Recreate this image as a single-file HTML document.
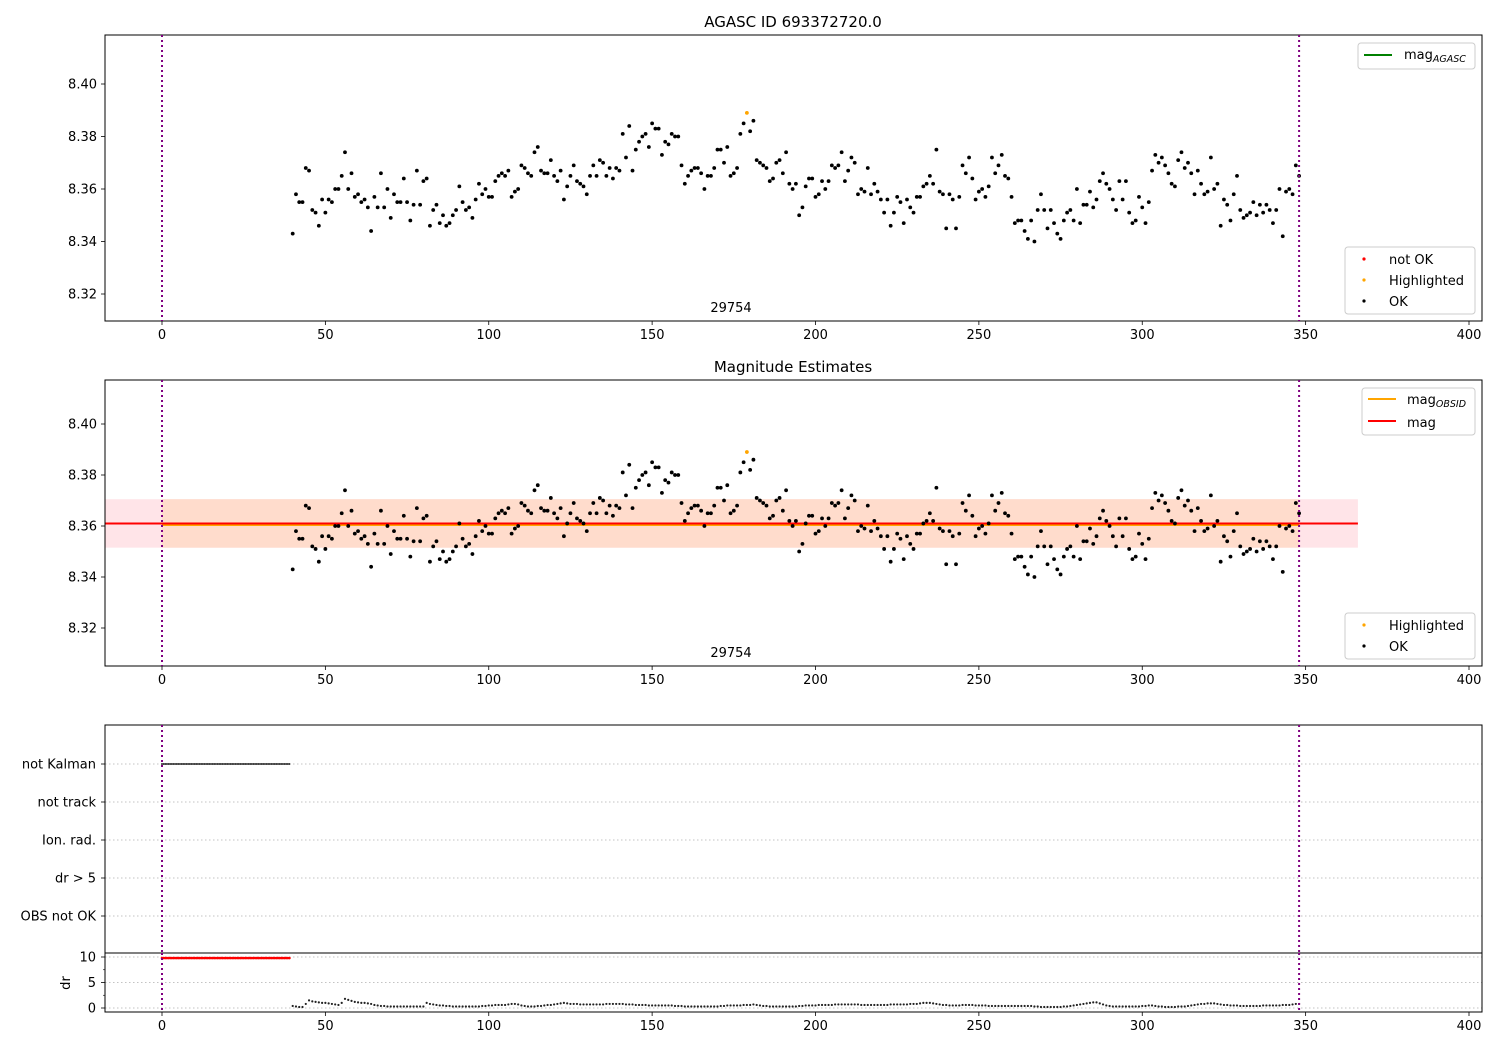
<!DOCTYPE html>
<html><head><meta charset="utf-8">
<style>
html,body{margin:0;padding:0;background:#fff;}
svg{display:block;font-family:"DejaVu Sans","Liberation Sans",sans-serif;}
</style></head>
<body>
<svg id="chart" width="1500" height="1050" xmlns="http://www.w3.org/2000/svg"></svg>
<script>
// ---- data ----
const startIndex = 40;
const mags = [8.343,8.358,8.355,8.355,8.368,8.367,8.352,8.351,8.346,8.356,8.351,8.356,8.355,8.360,8.360,8.365,8.374,8.360,8.366,8.357,
8.358,8.355,8.356,8.353,8.344,8.357,8.353,8.366,8.353,8.360,8.349,8.358,8.355,8.355,8.364,8.355,8.348,8.354,8.367,8.354,
8.363,8.364,8.346,8.352,8.354,8.347,8.350,8.346,8.347,8.350,8.352,8.361,8.355,8.352,8.353,8.349,8.356,8.362,8.358,8.360,
8.357,8.357,8.363,8.365,8.366,8.365,8.367,8.357,8.359,8.360,8.369,8.368,8.366,8.365,8.374,8.376,8.367,8.366,8.366,8.371,
8.365,8.363,8.367,8.356,8.361,8.365,8.369,8.363,8.362,8.361,8.358,8.365,8.369,8.365,8.371,8.370,8.365,8.368,8.364,8.368,
8.367,8.381,8.372,8.384,8.367,8.375,8.378,8.380,8.381,8.376,8.385,8.383,8.383,8.373,8.378,8.377,8.381,8.380,8.380,8.369,
8.362,8.365,8.367,8.368,8.368,8.366,8.360,8.365,8.365,8.368,8.375,8.375,8.370,8.376,8.365,8.366,8.368,8.381,8.385,8.389,
8.382,8.386,8.371,8.370,8.369,8.368,8.363,8.364,8.370,8.371,8.366,8.374,8.362,8.360,8.362,8.350,8.353,8.361,8.364,8.364,
8.357,8.358,8.363,8.360,8.363,8.369,8.368,8.369,8.374,8.363,8.367,8.372,8.370,8.358,8.360,8.359,8.368,8.358,8.362,8.359,
8.356,8.351,8.356,8.346,8.351,8.357,8.355,8.347,8.356,8.353,8.351,8.357,8.357,8.361,8.362,8.365,8.362,8.375,8.359,8.358,
8.345,8.358,8.356,8.345,8.357,8.369,8.366,8.372,8.364,8.356,8.359,8.360,8.357,8.361,8.372,8.366,8.369,8.373,8.365,8.364,
8.357,8.347,8.348,8.348,8.344,8.341,8.348,8.340,8.352,8.358,8.352,8.345,8.352,8.347,8.343,8.341,8.348,8.351,8.352,8.348,
8.360,8.347,8.354,8.354,8.359,8.353,8.356,8.363,8.366,8.362,8.360,8.356,8.352,8.363,8.356,8.363,8.351,8.347,8.348,8.357,
8.353,8.347,8.355,8.367,8.373,8.370,8.372,8.369,8.366,8.362,8.361,8.371,8.374,8.368,8.370,8.366,8.358,8.367,8.362,8.358,
8.359,8.372,8.360,8.362,8.346,8.356,8.354,8.348,8.358,8.365,8.352,8.349,8.350,8.351,8.355,8.350,8.354,8.351,8.354,8.352,
8.347,8.352,8.360,8.342,8.359,8.360,8.358,8.369,8.365];
const highlightedIndex = [179];
const drValues = [0.4,0.3,0.2,0.2,0.8,1.5,1.3,1.2,1.1,1.0,1.0,0.9,0.8,0.7,0.6,1.0,1.8,1.6,1.4,1.2,
1.1,1.0,1.0,0.9,0.8,0.6,0.5,0.4,0.4,0.3,0.3,0.3,0.3,0.3,0.3,0.3,0.3,0.3,0.3,0.3,
0.3,1.0,0.8,0.7,0.6,0.5,0.5,0.4,0.4,0.3,0.3,0.3,0.3,0.3,0.3,0.3,0.3,0.3,0.4,0.4,
0.5,0.5,0.6,0.6,0.6,0.6,0.7,0.8,0.8,0.7,0.5,0.4,0.3,0.3,0.3,0.4,0.4,0.5,0.6,0.6,
0.7,0.8,0.9,1.0,0.9,0.8,0.8,0.8,0.7,0.7,0.7,0.7,0.7,0.7,0.7,0.7,0.8,0.8,0.8,0.8,
0.8,0.8,0.7,0.7,0.7,0.6,0.6,0.6,0.6,0.5,0.5,0.5,0.5,0.5,0.5,0.5,0.5,0.4,0.4,0.4,
0.3,0.3,0.3,0.3,0.3,0.3,0.3,0.3,0.3,0.3,0.3,0.4,0.4,0.5,0.5,0.5,0.5,0.5,0.6,0.6,
0.6,0.7,0.6,0.5,0.4,0.4,0.3,0.3,0.3,0.3,0.3,0.3,0.3,0.3,0.3,0.4,0.4,0.5,0.5,0.5,
0.5,0.6,0.6,0.6,0.6,0.6,0.7,0.7,0.7,0.7,0.7,0.7,0.7,0.7,0.6,0.6,0.6,0.6,0.6,0.6,
0.6,0.6,0.6,0.7,0.7,0.7,0.7,0.7,0.7,0.8,0.8,0.8,0.9,1.0,1.0,1.0,0.9,0.8,0.7,0.6,
0.6,0.5,0.5,0.5,0.5,0.6,0.6,0.6,0.6,0.5,0.5,0.5,0.5,0.4,0.4,0.4,0.4,0.4,0.4,0.4,
0.4,0.4,0.4,0.4,0.4,0.4,0.4,0.3,0.3,0.2,0.2,0.2,0.2,0.2,0.2,0.2,0.3,0.3,0.4,0.5,
0.6,0.7,0.8,0.9,1.0,1.1,1.1,0.9,0.7,0.5,0.4,0.3,0.3,0.3,0.3,0.3,0.3,0.3,0.3,0.3,
0.4,0.4,0.5,0.5,0.4,0.3,0.3,0.2,0.2,0.2,0.2,0.3,0.3,0.3,0.4,0.5,0.6,0.7,0.8,0.8,
0.9,0.9,0.9,0.8,0.7,0.6,0.6,0.5,0.5,0.5,0.4,0.4,0.4,0.4,0.4,0.4,0.4,0.5,0.5,0.5,
0.5,0.5,0.5,0.6,0.6,0.6,0.7,0.8,0.8];
const notKalmanStart = 0, notKalmanEnd = 39;
const notKalmanDr = 9.8;
const magMean = 8.361, magLow = 8.3515, magHigh = 8.3705;
const bandEnd = 366, obsEnd = 348;
const xTicks = [0,50,100,150,200,250,300,350,400];
const magTicks = [8.32,8.34,8.36,8.38,8.40];
const rowLabels = ["not Kalman","not track","Ion. rad.","dr > 5","OBS not OK"];
const drTicks = [0,5,10];

// ---- helpers ----
const svg = document.getElementById('chart');
const NS = 'http://www.w3.org/2000/svg';
function mk(tag, attrs, parent){ const e=document.createElementNS(NS,tag); for(const k in attrs) e.setAttribute(k,attrs[k]); (parent||svg).appendChild(e); return e; }
const X0=105, X1=1482;
const xs = v => 162 + v*(1469-162)/400;
const p1 = {top:35,bottom:321,y:v=>189-(v-8.36)*2625};
const p2 = {top:380,bottom:666,y:v=>526-(v-8.36)*2550};
const p3 = {top:725,bottom:953};
const rowY = i => 764 + i*38;
const p4 = {top:953,bottom:1012,y:v=>1008 - v*5.1};

function xAxis(p, name){
  const g=mk('g',{});
  
  
  xTicks.forEach(t=>{ const x=xs(t); mk('line',{x1:x,x2:x,y1:p.bottom,y2:p.bottom+4,stroke:'#000','stroke-width':0.8},g);
    const tx=mk('text',{x:x,y:p.bottom+18,'text-anchor':'middle','font-size':13},g); tx.textContent=t; });
}
function frame(p,name){ const r=mk('rect',{x:X0,y:p.top,width:X1-X0,height:p.bottom-p.top,fill:'none',stroke:'#000','stroke-width':1});
    }
function vlines(p){ [0,obsEnd].forEach(v=>{ const l=mk('line',{x1:xs(v),x2:xs(v),y1:p.top,y2:p.bottom,stroke:'#800080','stroke-width':2,'stroke-dasharray':'2,3'});
    }); }
function magPanel(p, prefix){
  magTicks.forEach(t=>{ const y=p.y(t); mk('line',{x1:X0-4,x2:X0,y1:y,y2:y,stroke:'#000','stroke-width':0.8});
    const tx=mk('text',{x:X0-8,y:y+4.5,'text-anchor':'end','font-size':13}); tx.textContent=t.toFixed(2); });
  mags.forEach((m,i)=>{ const idx=startIndex+i; const hl=highlightedIndex.includes(idx);
    const c=mk('circle',{cx:xs(idx),cy:p.y(m),r:1.9,fill:hl?'#ffa500':'#000'});
    
     });
  const t=mk('text',{x:731,y:p.bottom-9,'text-anchor':'middle','font-size':13}); t.textContent='29754';
   
}
function legendBox(x,y,w,h,name){ const r=mk('rect',{x:x,y:y,width:w,height:h,rx:3,fill:'#fff','fill-opacity':0.8,stroke:'#ccc'});
    }
function legText(x,y,s,sub){ const t=mk('text',{x:x,y:y,'font-size':13}); t.textContent=s;
  if(sub){ const ts=document.createElementNS(NS,'tspan'); ts.setAttribute('font-size','9.5'); ts.setAttribute('font-style','italic'); ts.setAttribute('dy','3'); ts.textContent=sub; t.appendChild(ts);} return t; }

// ---- panel 1 ----
frame(p1,'agasc-panel');
const t1=mk('text',{x:793,y:27,'text-anchor':'middle','font-size':15}); t1.textContent='AGASC ID 693372720.0';
 
magPanel(p1,'p1'); vlines(p1); xAxis(p1,'x-axis-top');
legendBox(1358,43,117,26,'legend-agasc');
mk('line',{x1:1364,x2:1392,y1:55,y2:55,stroke:'green','stroke-width':2}); legText(1404,59,'mag','AGASC');
legendBox(1345,247,130,67,'legend-points-top');
mk('circle',{cx:1364,cy:259,r:1.6,fill:'red'}); legText(1389,264,'not OK');
mk('circle',{cx:1364,cy:280,r:1.6,fill:'#ffa500'}); legText(1389,285,'Highlighted');
mk('circle',{cx:1364,cy:301,r:1.6,fill:'#000'}); legText(1389,306,'OK');

// ---- panel 2 ----
const pink=mk('rect',{x:X0,y:p2.y(magHigh),width:xs(bandEnd)-X0,height:p2.y(magLow)-p2.y(magHigh),fill:'#ffe4e8'});
 
const orb=mk('rect',{x:xs(0),y:p2.y(magHigh),width:xs(obsEnd)-xs(0),height:p2.y(magLow)-p2.y(magHigh),fill:'#ffdccc'});
 
mk('line',{x1:xs(0),x2:xs(obsEnd),y1:p2.y(magMean)+1.5,y2:p2.y(magMean)+1.5,stroke:'#ffa500','stroke-width':2});
const ml=mk('line',{x1:X0,x2:xs(bandEnd),y1:p2.y(magMean),y2:p2.y(magMean),stroke:'red','stroke-width':2});
 
frame(p2,'estimates-panel');
const t2=mk('text',{x:793,y:372,'text-anchor':'middle','font-size':15}); t2.textContent='Magnitude Estimates';
 
magPanel(p2,'p2'); vlines(p2); xAxis(p2,'x-axis-middle');
legendBox(1362,388,113,47,'legend-mag');
mk('line',{x1:1368,x2:1396,y1:399,y2:399,stroke:'#ffa500','stroke-width':2}); legText(1407,404,'mag','OBSID');
mk('line',{x1:1368,x2:1396,y1:421,y2:421,stroke:'red','stroke-width':2}); legText(1407,427,'mag');
legendBox(1345,613,130,46,'legend-points-middle');
mk('circle',{cx:1364,cy:625,r:1.6,fill:'#ffa500'}); legText(1389,630,'Highlighted');
mk('circle',{cx:1364,cy:646,r:1.6,fill:'#000'}); legText(1389,651,'OK');

// ---- panel 3 ----
rowLabels.forEach((s,i)=>{ const y=rowY(i);
  mk('line',{x1:X0,x2:X1,y1:y,y2:y,stroke:'#b0b0b0','stroke-width':0.8,'stroke-dasharray':'1.5,2.5'});
  mk('line',{x1:X0-4,x2:X0,y1:y,y2:y,stroke:'#000','stroke-width':0.8});
  const t=mk('text',{x:X0-9,y:y+4.5,'text-anchor':'end','font-size':13}); t.textContent=s;
    });
for(let v=notKalmanStart; v<=notKalmanEnd; v+=0.5){ const c=mk('circle',{cx:xs(v),cy:rowY(0),r:1,fill:'#333'});
    }
frame(p3,'flags-panel'); vlines(p3);

// ---- panel 4 ----
drTicks.forEach(t=>{ const y=p4.y(t);
  mk('line',{x1:X0,x2:X1,y1:y,y2:y,stroke:'#b0b0b0','stroke-width':0.8,'stroke-dasharray':'1.5,2.5'});
  mk('line',{x1:X0-4,x2:X0,y1:y,y2:y,stroke:'#000','stroke-width':0.8});
  const tx=mk('text',{x:X0-9,y:y+4.5,'text-anchor':'end','font-size':13}); tx.textContent=t; });
[2.5,7.5].forEach(t=>{ const y=p4.y(t); mk('line',{x1:X0-2,x2:X0,y1:y,y2:y,stroke:'#000','stroke-width':0.6}); });
const dl=mk('text',{x:70,y:983,'text-anchor':'middle','font-size':13,transform:'rotate(-90 70 983)'}); dl.textContent='dr';
 
for(let v=notKalmanStart; v<=notKalmanEnd; v+=0.5){ const c=mk('circle',{cx:xs(v),cy:p4.y(notKalmanDr),r:1.3,fill:'red'});
    }
drValues.forEach((d,i)=>{ const c=mk('circle',{cx:xs(startIndex+i),cy:p4.y(d),r:1.1,fill:'#222'});
    });
frame(p4,'dr-panel'); vlines(p4); xAxis(p4,'x-axis-bottom');
</script>
</body></html>
